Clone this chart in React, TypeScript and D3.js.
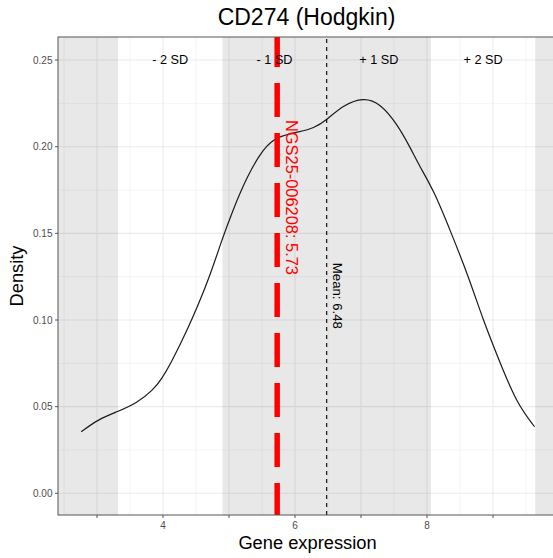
import React from "react";
import * as d3 from "d3";

// ---- data ----
const densityX = [2.76, 3.02, 3.31, 3.6, 3.85, 3.98, 4.11, 4.27, 4.43, 4.69, 4.89, 5.04, 5.27, 5.52, 5.72, 6.08, 6.28, 6.48, 6.73, 7.04, 7.29, 7.54, 7.74, 7.89, 8.1, 8.37, 8.63, 8.85, 9.11, 9.36, 9.63];
const densityY = [0.0355, 0.0427, 0.0471, 0.0519, 0.0596, 0.066, 0.0745, 0.0865, 0.0995, 0.123, 0.146, 0.1616, 0.1827, 0.199, 0.2058, 0.2087, 0.2106, 0.2154, 0.224, 0.2285, 0.225, 0.2135, 0.2, 0.1885, 0.175, 0.15, 0.125, 0.1, 0.075, 0.052, 0.0384];
const xTicks = [3, 4, 5, 6, 7, 8, 9];
const xTickLabels = ["", "4", "", "6", "", "8", ""];
const xMinor = [2.5, 3.5, 4.5, 5.5, 6.5, 7.5, 8.5, 9.5];
const yTicks = [0, 0.05, 0.1, 0.15, 0.2, 0.25];
const yTickLabels = ["0.00", "0.05", "0.10", "0.15", "0.20", "0.25"];
const yMinor = [0.025, 0.075, 0.125, 0.175, 0.225];
const meanValue = 6.48;
const sdValue = 1.58;
const sampleValue = 5.73;
const sampleLabel = "NGS25-006208: 5.73";
const meanLabel = "Mean: 6.48";
const sdLabels = ["- 2 SD", "- 1 SD", "+ 1 SD", "+ 2 SD"];
const sdLabelOffsets = [-1.5, -0.5, 0.5, 1.5];
const sdLabelY = 0.25;
const sampleLabelY = 0.2154;
const meanLabelY = 0.133;
const title = "CD274 (Hodgkin)";
const xTitle = "Gene expression";
const yTitle = "Density";

const W = 553;
const H = 558;
const panel = { left: 58, right: 558, top: 37, bottom: 515 };
const FONT = "'Liberation Sans', Arial, Helvetica, sans-serif";

export default function App() {
  const x = d3.scaleLinear().domain([2.409, 9.985]).range([panel.left, panel.right]);
  const y = d3.scaleLinear().domain([-0.01252, 0.2633]).range([panel.bottom, panel.top]);
  const pts = densityX.map((v, i) => [v, densityY[i]] as [number, number]);
  const line = d3.line<[number, number]>().x((d) => x(d[0])).y((d) => y(d[1])).curve(d3.curveBasis);

  const bands: [number, number][] = [
    [panel.left, x(meanValue - 2 * sdValue)],
    [x(meanValue - sdValue), x(meanValue + sdValue)],
    [x(meanValue + 2 * sdValue), panel.right],
  ];

  const sx = x(sampleValue);
  const mx = x(meanValue);

  return (
    <svg width={W} height={H} style={{ position: "absolute", left: 0, top: 0, background: "#fff" }} fontFamily={FONT}>
      <defs>
        <clipPath id="pc">
          <rect x={panel.left} y={panel.top} width={panel.right - panel.left} height={panel.bottom - panel.top} />
        </clipPath>
      </defs>
      <rect x={0} y={0} width={W} height={H} fill="#fff" />
      <g clipPath="url(#pc)">
        {yMinor.map((v) => (
          <line key={"ym" + v} x1={panel.left} x2={panel.right} y1={y(v)} y2={y(v)} stroke="#ebebeb" strokeWidth={0.55} />
        ))}
        {xMinor.map((v) => (
          <line key={"xm" + v} x1={x(v)} x2={x(v)} y1={panel.top} y2={panel.bottom} stroke="#ebebeb" strokeWidth={0.55} />
        ))}
        {yTicks.map((v) => (
          <line key={"yM" + v} x1={panel.left} x2={panel.right} y1={y(v)} y2={y(v)} stroke="#ebebeb" strokeWidth={1.1} />
        ))}
        {xTicks.map((v) => (
          <line key={"xM" + v} x1={x(v)} x2={x(v)} y1={panel.top} y2={panel.bottom} stroke="#ebebeb" strokeWidth={1.1} />
        ))}
        {bands.map((b, i) => (
          <rect key={"b" + i} x={b[0]} y={panel.top} width={b[1] - b[0]} height={panel.bottom - panel.top} fill="#000" fillOpacity={0.09} />
        ))}
        <path d={line(pts) || ""} fill="none" stroke="#1a1a1a" strokeWidth={1.2} />
        <line x1={mx} x2={mx} y1={panel.bottom} y2={panel.top} stroke="#000" strokeWidth={1.1} strokeDasharray="4,4" />
        <line x1={sx} x2={sx} y1={panel.bottom + 2} y2={panel.top} stroke="#ff0000" strokeWidth={5.5} strokeDasharray="34,16" />
        {sdLabels.map((t, i) => (
          <text key={t} x={x(meanValue + sdLabelOffsets[i] * sdValue)} y={y(sdLabelY)} dy="0.35em" textAnchor="middle" fontSize={12.7} fill="#000">
            {t}
          </text>
        ))}
        <text transform={`translate(${mx + 6},${y(meanLabelY)}) rotate(90)`} fontSize={13.2} fill="#000">
          {meanLabel}
        </text>
        <text transform={`translate(${sx + 8.5},${y(sampleLabelY)}) rotate(90)`} fontSize={16.4} fill="#ff0000">
          {sampleLabel}
        </text>
      </g>
      <rect x={panel.left} y={panel.top} width={panel.right - panel.left} height={panel.bottom - panel.top} fill="none" stroke="#555" strokeWidth={1} />
      {xTicks.map((v, i) => (
        <g key={"xt" + v}>
          <line x1={x(v)} x2={x(v)} y1={panel.bottom} y2={panel.bottom + 3} stroke="#555" strokeWidth={1} />
          <text x={x(v)} y={panel.bottom + 14} textAnchor="middle" fontSize={10} fill="#4d4d4d">
            {xTickLabels[i]}
          </text>
        </g>
      ))}
      {yTicks.map((v, i) => (
        <g key={"yt" + v}>
          <line x1={panel.left - 3} x2={panel.left} y1={y(v)} y2={y(v)} stroke="#555" strokeWidth={1} />
          <text x={panel.left - 5.5} y={y(v)} dy="0.35em" textAnchor="end" fontSize={10} fill="#4d4d4d">
            {yTickLabels[i]}
          </text>
        </g>
      ))}
      <text x={306.5} y={25} textAnchor="middle" fontSize={23} fill="#000">
        {title}
      </text>
      <text x={307.5} y={549} textAnchor="middle" fontSize={18.3} fill="#000">
        {xTitle}
      </text>
      <text transform={`translate(23,276) rotate(-90)`} textAnchor="middle" fontSize={18.3} fill="#000">
        {yTitle}
      </text>
    </svg>
  );
}
